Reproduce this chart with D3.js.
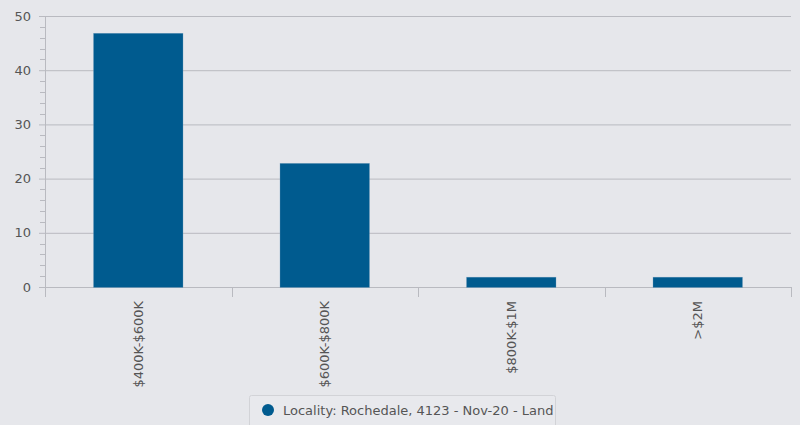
<!DOCTYPE html>
<html>
<head>
<meta charset="utf-8">
<script src="https://cdn.jsdelivr.net/npm/d3@7"></script>
<style>
  body { margin: 0; background: #e6e7eb; }
  svg { display: block; font-family: "DejaVu Sans", sans-serif; }
</style>
</head>
<body>
<svg id="app" width="800" height="425"></svg>
<script>
const categories = ['$400K-$600K', '$600K-$800K', '$800K-$1M', '>$2M']
const values = [47, 23, 2, 2]
const yTicks = [0, 10, 20, 30, 40, 50]
const seriesName = 'Locality: Rochedale, 4123 - Nov-20 - Land'

const barColor = '#005b8f'
const gridColor = '#b9bac0'
const textColor = '#555555'

const margin = {top: 16, right: 9, bottom: 138, left: 45}
const width = 800, height = 425
const svg = d3.select('#app')

svg.append('rect').attr('width', width).attr('height', height).attr('fill', '#e6e7eb')

const x = d3.scaleBand()
  .domain(categories)
  .range([margin.left, width - margin.right])
  .paddingInner(0.52)
  .paddingOuter(0.26)

const y = d3.scaleLinear()
  .domain([0, 50])
  .range([height - margin.bottom, margin.top])

// gridlines
svg.append('g')
  .selectAll('line')
  .data(yTicks)
  .enter()
  .append('line')
  .attr('x1', margin.left)
  .attr('x2', width - margin.right)
  .attr('y1', d => y(d) + 0.5)
  .attr('y2', d => y(d) + 0.5)
  .attr('stroke', gridColor)
  .attr('stroke-width', 1)

// minor ticks on y axis
const minor = d3.range(0, 50, 2).filter(v => v % 10 !== 0)
svg.append('g')
  .selectAll('line')
  .data(minor)
  .enter()
  .append('line')
  .attr('x1', margin.left - 5)
  .attr('x2', margin.left)
  .attr('y1', d => Math.round(y(d)) + 0.5)
  .attr('y2', d => Math.round(y(d)) + 0.5)
  .attr('stroke', gridColor)

// major ticks on y axis
svg.append('g')
  .selectAll('line')
  .data(yTicks)
  .enter()
  .append('line')
  .attr('x1', margin.left - 6)
  .attr('x2', margin.left)
  .attr('y1', d => y(d) + 0.5)
  .attr('y2', d => y(d) + 0.5)
  .attr('stroke', gridColor)

// y axis line
svg.append('line')
  .attr('x1', margin.left + 0.5).attr('x2', margin.left + 0.5)
  .attr('y1', margin.top).attr('y2', y(0) + 10)
  .attr('stroke', gridColor)

// y labels
svg.append('g')
  .selectAll('text')
  .data(yTicks)
  .enter()
  .append('text')
  .attr('x', 31)
  .attr('y', d => y(d))
  .attr('dy', '0.35em')
  .attr('text-anchor', 'end')
  .attr('font-size', 13)
  .attr('fill', textColor)
  .text(d => d)

// bars
svg.append('g')
  .selectAll('rect')
  .data(values)
  .enter()
  .append('rect')
  .attr('x', (d, i) => x(categories[i]))
  .attr('y', d => y(d) + 1)
  .attr('width', x.bandwidth())
  .attr('height', d => y(0) - y(d) - 0.5)
  .attr('fill', barColor)
  .attr('stroke', '#7fa9c4')
  .attr('stroke-width', 0.5)
  .attr('stroke-opacity', 0.6)

// x axis ticks at band boundaries
const bounds = d3.range(categories.length + 1).map(i => margin.left + i * (width - margin.right - margin.left) / categories.length)
svg.append('g')
  .selectAll('line')
  .data(bounds)
  .enter()
  .append('line')
  .attr('x1', d => Math.round(d) + 0.5)
  .attr('x2', d => Math.round(d) + 0.5)
  .attr('y1', y(0))
  .attr('y2', y(0) + 10)
  .attr('stroke', gridColor)

// x labels
svg.append('g')
  .selectAll('text')
  .data(categories)
  .enter()
  .append('text')
  .attr('transform', d => `translate(${x(d) + x.bandwidth() / 2},${y(0) + 14}) rotate(-90)`)
  .attr('dy', '0.35em')
  .attr('text-anchor', 'end')
  .attr('font-size', 13)
  .attr('fill', textColor)
  .text(d => d)

// legend
const legend = svg.append('g')
legend.append('rect')
  .attr('x', 249.5).attr('y', 395.5)
  .attr('width', 306).attr('height', 40)
  .attr('rx', 2)
  .attr('fill', '#e8e9ed')
  .attr('stroke', '#d2d3d7')
legend.append('circle')
  .attr('cx', 268).attr('cy', 410).attr('r', 6)
  .attr('fill', barColor)
legend.append('text')
  .attr('x', 283).attr('y', 410)
  .attr('dy', '0.35em')
  .attr('font-size', 13)
  .attr('fill', textColor)
  .text(seriesName)
</script>
</body>
</html>
